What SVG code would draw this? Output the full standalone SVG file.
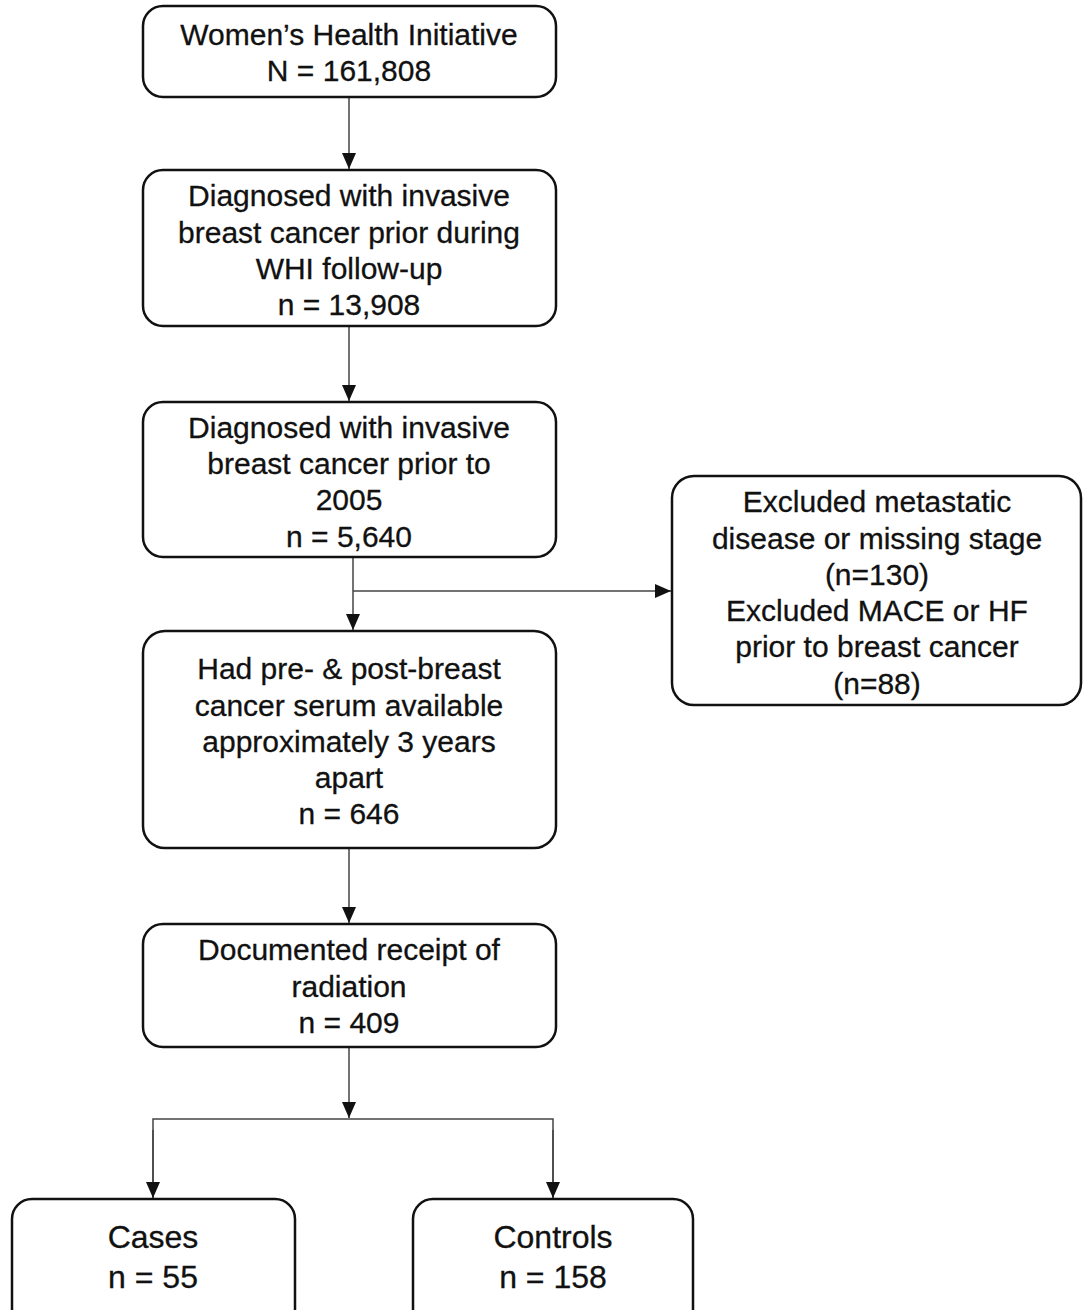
<svg xmlns="http://www.w3.org/2000/svg" width="1083" height="1310" viewBox="0 0 1083 1310">
<style>
.box{fill:#fff;stroke:#111;stroke-width:2.5}
.t{font-family:"Liberation Sans",Arial,sans-serif;font-size:30px;fill:#111;stroke:#111;stroke-width:0.3;text-anchor:middle}
.b{font-size:32px}
.c{fill:none;stroke:#444;stroke-width:1.5}
</style>
<defs>
<marker id="ah" viewBox="0 0 16 16" refX="16" refY="8" markerWidth="16" markerHeight="16" markerUnits="userSpaceOnUse" orient="auto">
<path d="M0,1 L16,8 L0,15 Z" fill="#111"/>
</marker>
</defs>
<rect width="1083" height="1310" fill="#fff"/>
<g id="connectors">
<line class="c" x1="349" y1="97" x2="349" y2="169" marker-end="url(#ah)"/>
<line class="c" x1="349" y1="326" x2="349" y2="401" marker-end="url(#ah)"/>
<line class="c" x1="353" y1="557" x2="353" y2="630" marker-end="url(#ah)"/>
<line class="c" x1="353" y1="591" x2="671" y2="591" marker-end="url(#ah)"/>
<line class="c" x1="349" y1="848" x2="349" y2="923" marker-end="url(#ah)"/>
<line class="c" x1="349" y1="1047" x2="349" y2="1118" marker-end="url(#ah)"/>
<polyline class="c" points="153,1198 153,1119 553,1119 553,1198"/>
<line class="c" x1="153" y1="1130" x2="153" y2="1198" marker-end="url(#ah)"/>
<line class="c" x1="553" y1="1130" x2="553" y2="1198" marker-end="url(#ah)"/>
</g>
<g id="n1">
<rect class="box" x="143" y="6" width="413" height="91" rx="20"/>
<text class="t" x="349" y="45">Women’s Health Initiative</text>
<text class="t" x="349" y="81">N = 161,808</text>
</g>
<g id="n2">
<rect class="box" x="143" y="170" width="413" height="156" rx="20"/>
<text class="t" x="349" y="206">Diagnosed with invasive</text>
<text class="t" x="349" y="243">breast cancer prior during</text>
<text class="t" x="349" y="279">WHI follow-up</text>
<text class="t" x="349" y="315">n = 13,908</text>
</g>
<g id="n3">
<rect class="box" x="143" y="402" width="413" height="155" rx="20"/>
<text class="t" x="349" y="438">Diagnosed with invasive</text>
<text class="t" x="349" y="474">breast cancer prior to</text>
<text class="t" x="349" y="510">2005</text>
<text class="t" x="349" y="547">n = 5,640</text>
</g>
<g id="n4">
<rect class="box" x="672" y="476" width="409" height="229" rx="22"/>
<text class="t" x="877" y="512">Excluded metastatic</text>
<text class="t" x="877" y="549">disease or missing stage</text>
<text class="t" x="877" y="585">(n=130)</text>
<text class="t" x="877" y="621">Excluded MACE or HF</text>
<text class="t" x="877" y="657">prior to breast cancer</text>
<text class="t" x="877" y="694">(n=88)</text>
</g>
<g id="n5">
<rect class="box" x="143" y="631" width="413" height="217" rx="22"/>
<text class="t" x="349" y="679">Had pre- &amp; post-breast</text>
<text class="t" x="349" y="716">cancer serum available</text>
<text class="t" x="349" y="752">approximately 3 years</text>
<text class="t" x="349" y="788">apart</text>
<text class="t" x="349" y="824">n = 646</text>
</g>
<g id="n6">
<rect class="box" x="143" y="924" width="413" height="123" rx="20"/>
<text class="t" x="349" y="960">Documented receipt of</text>
<text class="t" x="349" y="997">radiation</text>
<text class="t" x="349" y="1033">n = 409</text>
</g>
<g id="n7">
<rect class="box" x="12" y="1199" width="283" height="130" rx="20"/>
<text class="t b" x="153" y="1248">Cases</text>
<text class="t b" x="153" y="1288">n = 55</text>
</g>
<g id="n8">
<rect class="box" x="413" y="1199" width="280" height="130" rx="20"/>
<text class="t b" x="553" y="1248">Controls</text>
<text class="t b" x="553" y="1288">n = 158</text>
</g>
</svg>
